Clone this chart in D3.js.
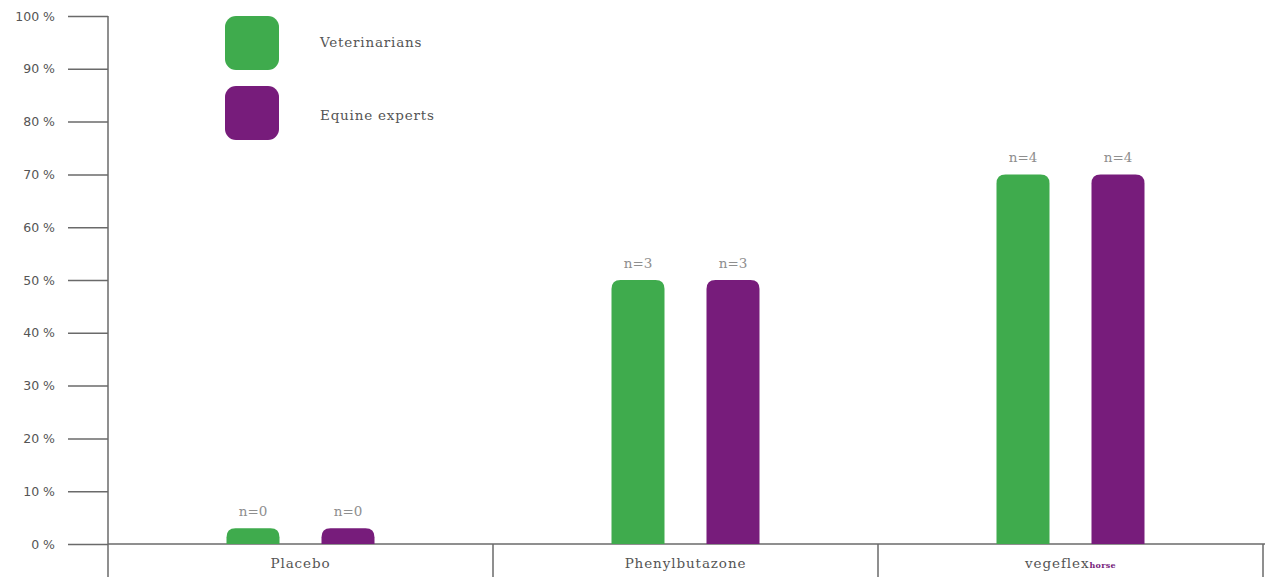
<!DOCTYPE html>
<html>
<head>
<meta charset="utf-8">
<script src="https://cdn.jsdelivr.net/npm/d3@7"></script>
<style>
  body { margin: 0; background: #fff; }
</style>
</head>
<body>
<svg id="chart"></svg>
<script>
// chart data
const categories = ['Placebo', 'Phenylbutazone', 'vegeflex'];
const seriesNames = ['Veterinarians', 'Equine experts'];
const veterinarians = [3, 50, 70];
const equineExperts = [3, 50, 70];
const countLabels = ['n=0', 'n=3', 'n=4'];
const yTicks = [0, 10, 20, 30, 40, 50, 60, 70, 80, 90, 100];

const colors = ['#3fab4d', '#771c7b'];
const serif = '"DejaVu Serif", serif';

const width = 1265;
const height = 577;
const margin = { top: 16, right: 2, bottom: 33, left: 108 };
const graphWidth = width - margin.left - margin.right;
const graphHeight = height - margin.top - margin.bottom;

const svg = d3.select('#chart')
    .attr('width', width)
    .attr('height', height);

const graph = svg.append('g')
    .attr('transform', `translate(${ margin.left }, ${ margin.top })`);

// scales
const x = d3.scaleBand()
    .domain(categories)
    .range([0, graphWidth]);

const y = d3.scaleLinear()
    .domain([0, 100])
    .range([graphHeight, 0]);

// inner scale for the two bars of a group
const x1 = d3.scaleBand()
    .domain(seriesNames)
    .range([x.bandwidth() / 2 - 74, x.bandwidth() / 2 + 74])
    .paddingInner(0.442);

// y axis
const yAxis = d3.axisLeft(y)
    .tickValues(yTicks)
    .tickSize(40)
    .tickPadding(13)
    .tickFormat(d => d + ' %');

const yAxisGroup = graph.append('g').call(yAxis);
yAxisGroup.attr('font-family', null);
yAxisGroup.select('path.domain').remove();
yAxisGroup.selectAll('line')
    .attr('stroke', '#6a6a6a')
    .attr('stroke-width', 1.5);
yAxisGroup.selectAll('text')
    .attr('fill', '#555')
    .attr('font-size', 12.5)
    .attr('font-family', '"DejaVu Sans", sans-serif');

// axis line and category boxes
graph.append('line')
    .attr('x1', 0).attr('x2', 0)
    .attr('y1', 0).attr('y2', graphHeight + margin.bottom)
    .attr('stroke', '#6a6a6a').attr('stroke-width', 1.5);

graph.append('line')
    .attr('x1', 0).attr('x2', graphWidth + margin.right)
    .attr('y1', graphHeight).attr('y2', graphHeight)
    .attr('stroke', '#6a6a6a').attr('stroke-width', 1.5);

graph.selectAll('.divider')
    .data(categories)
    .enter()
    .append('line')
    .attr('class', 'divider')
    .attr('x1', d => x(d) + x.bandwidth())
    .attr('x2', d => x(d) + x.bandwidth())
    .attr('y1', graphHeight)
    .attr('y2', graphHeight + margin.bottom)
    .attr('stroke', '#6a6a6a').attr('stroke-width', 1.5);

// category labels
const catLabels = graph.selectAll('.cat')
    .data(categories)
    .enter()
    .append('text')
    .attr('class', 'cat')
    .attr('x', d => x(d) + x.bandwidth() / 2)
    .attr('y', graphHeight + 24)
    .attr('text-anchor', 'middle')
    .attr('fill', '#555')
    .attr('font-family', serif)
    .attr('font-size', 13.5)
    .attr('letter-spacing', 0.9);

catLabels.append('tspan').text(d => d);
catLabels.filter(d => d === 'vegeflex')
    .append('tspan')
    .attr('fill', '#771c7b')
    .attr('font-size', 8)
    .attr('letter-spacing', 0.3)
    .attr('font-weight', 'bold')
    .text('horse');

// bar path with rounded top corners
function barPath(x0, y0, w, h, r) {
    r = Math.min(r, h, w / 2);
    return `M${ x0 },${ y0 + h }` +
        `V${ y0 + r }` +
        `Q${ x0 },${ y0 } ${ x0 + r },${ y0 }` +
        `H${ x0 + w - r }` +
        `Q${ x0 + w },${ y0 } ${ x0 + w },${ y0 + r }` +
        `V${ y0 + h }Z`;
}

const rows = categories.map((c, i) => ({
    category: c,
    values: [veterinarians[i], equineExperts[i]],
    label: countLabels[i]
}));

const groups = graph.selectAll('.group')
    .data(rows)
    .enter()
    .append('g')
    .attr('class', 'group')
    .attr('transform', d => `translate(${ x(d.category) }, 0)`);

const bars = groups.selectAll('g.bar')
    .data(d => d.values.map((v, j) => ({ series: seriesNames[j], value: v, label: d.label, j })))
    .enter()
    .append('g')
    .attr('class', 'bar');

bars.append('path')
    .attr('d', d => barPath(x1(d.series), y(d.value), x1.bandwidth(), graphHeight - y(d.value), 9))
    .attr('fill', d => colors[d.j]);

bars.append('text')
    .attr('x', d => x1(d.series) + x1.bandwidth() / 2)
    .attr('y', d => y(d.value) - 12)
    .attr('text-anchor', 'middle')
    .attr('fill', '#8e8e8e')
    .attr('font-size', 13.5)
    .attr('font-family', serif)
    .text(d => d.label);

// legend
const legend = svg.append('g')
    .attr('transform', 'translate(225, 16)');

const legendItems = legend.selectAll('g')
    .data(seriesNames)
    .enter()
    .append('g')
    .attr('transform', (d, i) => `translate(0, ${ i * 70 })`);

legendItems.append('rect')
    .attr('width', 54)
    .attr('height', 54)
    .attr('rx', 11)
    .attr('fill', (d, i) => colors[i]);

legendItems.append('text')
    .attr('x', 95)
    .attr('y', (d, i) => 31 + i * 3)
    .attr('fill', '#555')
    .attr('font-family', serif)
    .attr('font-size', 13.5)
    .attr('letter-spacing', 0.8)
    .text(d => d);
</script>
</body>
</html>
